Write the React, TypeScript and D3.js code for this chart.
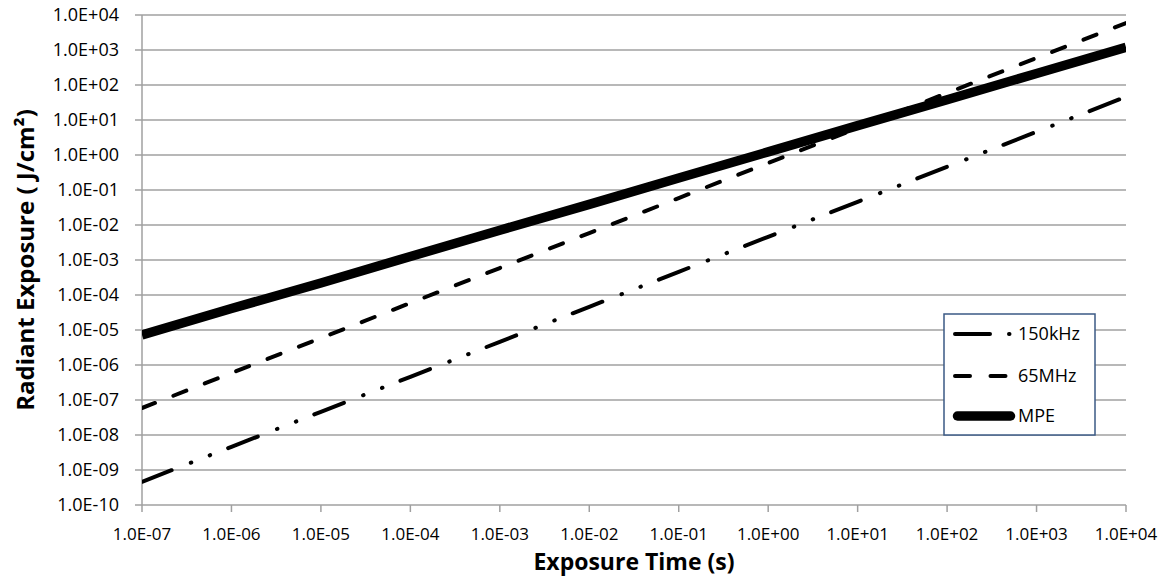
import React from "react";
import * as d3 from "d3";

// ---- data ----
const exposureTimes = [1e-7, 1e-6, 1e-5, 1e-4, 1e-3, 1e-2, 1e-1, 1e0, 1e1, 1e2, 1e3, 1e4];
const khz150 = [4.6e-10, 4.6e-9, 4.6e-8, 4.6e-7, 4.6e-6, 4.6e-5, 4.6e-4, 4.6e-3, 4.6e-2, 4.6e-1, 4.6, 46];
const mhz65 = [5.9e-8, 5.9e-7, 5.9e-6, 5.9e-5, 5.9e-4, 5.9e-3, 5.9e-2, 5.9e-1, 5.9, 59, 590, 5900];
const mpe = [7.2e-6, 4.1e-5, 2.2e-4, 1.26e-3, 7.1e-3, 3.9e-2, 2.2e-1, 1.23, 6.9, 38, 214, 1200];

const xTickValues = [1e-7, 1e-6, 1e-5, 1e-4, 1e-3, 1e-2, 1e-1, 1e0, 1e1, 1e2, 1e3, 1e4];
const xTickLabels = ["1.0E-07", "1.0E-06", "1.0E-05", "1.0E-04", "1.0E-03", "1.0E-02", "1.0E-01", "1.0E+00", "1.0E+01", "1.0E+02", "1.0E+03", "1.0E+04"];
const yTickValues = [1e-10, 1e-9, 1e-8, 1e-7, 1e-6, 1e-5, 1e-4, 1e-3, 1e-2, 1e-1, 1e0, 1e1, 1e2, 1e3, 1e4];
const yTickLabels = ["1.0E-10", "1.0E-09", "1.0E-08", "1.0E-07", "1.0E-06", "1.0E-05", "1.0E-04", "1.0E-03", "1.0E-02", "1.0E-01", "1.0E+00", "1.0E+01", "1.0E+02", "1.0E+03", "1.0E+04"];

const seriesNames = ["150kHz", "65MHz", "MPE"];

const W = 1169;
const H = 581;
const L = 142, R = 1126, T = 15, B = 505;
const FONT = "'Open Sans', sans-serif";
const GRID = "#a0a0a0";

export default function App() {
  const x = d3.scaleLog().domain([1e-7, 1e4]).range([L, R]);
  const y = d3.scaleLog().domain([1e-10, 1e4]).range([B, T]);
  const line = (vals: number[]) =>
    d3.line<number>().x((_, i) => x(exposureTimes[i])).y((v) => y(v))(vals) || "";

  const legX0 = 944, legY0 = 314, legX1 = 1095, legY1 = 435;
  const legRows = [334, 376, 416];

  return (
    <svg width={W} height={H} style={{ position: "absolute", left: 0, top: 0, background: "#fff" }}>
      <defs>
        <clipPath id="plot">
          <rect x={L} y={T - 5} width={R - L} height={B - T + 5} />
        </clipPath>
      </defs>
      <rect x={0} y={0} width={W} height={H} fill="#fff" />
      {/* gridlines + y ticks */}
      {yTickValues.map((v) => (
        <line key={"g" + v} x1={L - 7} x2={R} y1={y(v)} y2={y(v)} stroke={GRID} strokeWidth={1.5} />
      ))}
      {/* y axis */}
      <line x1={L} x2={L} y1={T} y2={B} stroke={GRID} strokeWidth={1.5} />
      {/* x ticks */}
      {xTickValues.map((v) => (
        <line key={"xt" + v} x1={x(v)} x2={x(v)} y1={B} y2={B + 7} stroke={GRID} strokeWidth={1.5} />
      ))}
      {/* y labels */}
      {yTickValues.map((v, i) => (
        <text key={"yl" + v} x={119} y={y(v)} dy="0.35em" textAnchor="end" fontFamily={FONT} fontSize={18} fill="#000">
          {yTickLabels[i]}
        </text>
      ))}
      {/* x labels */}
      {xTickValues.map((v, i) => (
        <text key={"xl" + v} x={x(v)} y={540} textAnchor="middle" fontFamily={FONT} fontSize={17} fill="#000">
          {xTickLabels[i]}
        </text>
      ))}
      {/* series */}
      <g clipPath="url(#plot)" fill="none" stroke="#000">
        <path d={line(khz150)} strokeWidth={4} strokeLinecap="round" strokeDasharray="31.8 20.6 0.5 19.8 0.5 19.3" />
        <path d={line(mhz65)} strokeWidth={4} strokeLinecap="round" strokeDasharray="13.9 19.8" />
        <path d={line(mpe)} strokeWidth={9.5} strokeLinecap="butt" />
      </g>
      {/* legend */}
      <rect x={legX0} y={legY0} width={legX1 - legX0} height={legY1 - legY0} fill="#fff" stroke="#3b5a85" strokeWidth={1.5} />
      <line x1={955} x2={1015} y1={legRows[0]} y2={legRows[0]} stroke="#000" strokeWidth={4} strokeLinecap="round" strokeDasharray="35 19 0.5 100" />
      <line x1={955} x2={1006} y1={legRows[1]} y2={legRows[1]} stroke="#000" strokeWidth={4} strokeLinecap="round" strokeDasharray="15 20.5" />
      <line x1={957.5} x2={1010.5} y1={legRows[2]} y2={legRows[2]} stroke="#000" strokeWidth={9.5} strokeLinecap="round" />
      {seriesNames.map((n, i) => (
        <text key={n} x={1018} y={legRows[i]} dy="0.35em" fontFamily={FONT} fontSize={18} fill="#000">
          {n}
        </text>
      ))}
      {/* axis titles */}
      <text x={(L + R) / 2} y={570} textAnchor="middle" fontFamily={FONT} fontWeight="bold" fontSize={23} fill="#000">
        Exposure Time (s)
      </text>
      <text transform={`translate(34,${(T + B) / 2}) rotate(-90)`} textAnchor="middle" fontFamily={FONT} fontWeight="bold" fontSize={24} fill="#000">
        Radiant Exposure ( J/cm²)
      </text>
    </svg>
  );
}
